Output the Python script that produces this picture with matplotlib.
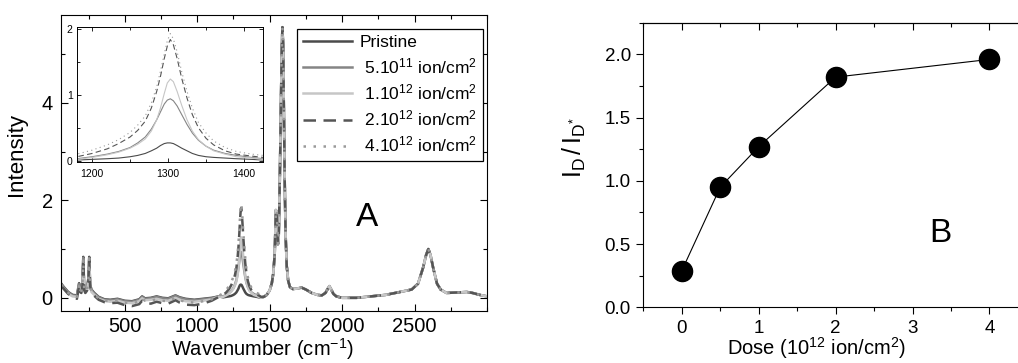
import matplotlib
matplotlib.use("Agg")
import matplotlib.pyplot as plt
from matplotlib.ticker import MultipleLocator

plt.rcParams['font.family'] = ['Liberation Sans', 'DejaVu Sans']
plt.rcParams['mathtext.fontset'] = 'custom'
plt.rcParams['mathtext.rm'] = 'Liberation Sans'
plt.rcParams['mathtext.it'] = 'Liberation Sans:italic'
plt.rcParams['mathtext.bf'] = 'Liberation Sans:bold'
plt.rcParams['mathtext.default'] = 'regular'

# Panel A: Raman spectra (low range, D band, G/2D range)
wn_low = [60, 80, 110, 140, 170, 185, 192, 200, 208, 214, 220, 228, 240, 249, 255, 261, 270, 290, 320,
          360, 400, 450, 500, 550, 600, 620, 640, 680, 720, 760, 800, 850, 880, 920, 980, 1040, 1100, 1150]
pristine_low = [0.30, 0.22, 0.12, 0.06, 0.05, 0.30, 0.18, 0.15, 0.30, 0.84, 0.22, 0.15, 0.20, 0.40, 0.84,
                0.28, 0.17, 0.10, 0.02, -0.03, -0.04, -0.02, -0.06, -0.07, -0.03, 0.03, -0.01, 0.00, 0.03,
                0.00, -0.01, 0.05, 0.01, -0.02, -0.04, -0.02, 0.00, 0.03]
dose5_low = [0.28, 0.21, 0.11, 0.05, 0.04, 0.28, 0.17, 0.14, 0.28, 0.82, 0.21, 0.14, 0.19, 0.38, 0.82,
             0.27, 0.16, 0.09, 0.01, -0.04, -0.05, -0.03, -0.07, -0.08, -0.04, 0.02, -0.02, -0.01, 0.02,
             -0.01, -0.02, 0.04, 0.00, -0.03, -0.05, -0.03, -0.01, 0.03]
dose1_low = [0.25, 0.18, 0.08, 0.03, 0.02, 0.22, 0.12, 0.10, 0.22, 0.70, 0.16, 0.10, 0.15, 0.32, 0.72,
             0.22, 0.12, 0.06, -0.02, -0.06, -0.08, -0.06, -0.10, -0.11, -0.07, -0.01, -0.05, -0.04, -0.02,
             -0.05, -0.06, 0.00, -0.04, -0.07, -0.08, -0.06, -0.03, 0.02]
dose2_low = [0.25, 0.18, 0.08, 0.02, -0.02, 0.25, 0.12, 0.10, 0.24, 0.78, 0.16, 0.10, 0.15, 0.34, 0.78,
             0.24, 0.12, 0.04, -0.04, -0.09, -0.11, -0.10, -0.15, -0.17, -0.13, -0.06, -0.10, -0.12, -0.08,
             -0.11, -0.12, -0.05, -0.10, -0.14, -0.15, -0.12, -0.06, 0.02]
dose4_low = [0.27, 0.20, 0.10, 0.04, 0.02, 0.26, 0.15, 0.12, 0.26, 0.80, 0.19, 0.12, 0.17, 0.36, 0.80,
             0.26, 0.14, 0.07, -0.01, -0.06, -0.07, -0.06, -0.10, -0.11, -0.08, -0.02, -0.06, -0.06, -0.03,
             -0.06, -0.07, 0.00, -0.05, -0.08, -0.10, -0.07, -0.03, 0.04]

wn_d = [1180, 1200, 1220, 1235, 1250, 1260, 1270, 1278, 1285, 1290, 1295, 1299, 1303, 1307, 1312, 1318,
        1325, 1332, 1340, 1350, 1360, 1375, 1390, 1410, 1425, 1440]
pristine_d = [0.01, 0.02, 0.03, 0.04, 0.06, 0.08, 0.11, 0.15, 0.19, 0.23, 0.26, 0.27, 0.27, 0.26, 0.23,
              0.19, 0.15, 0.11, 0.08, 0.06, 0.05, 0.04, 0.03, 0.02, 0.01, 0.00]
dose5_d = [0.03, 0.06, 0.10, 0.14, 0.20, 0.27, 0.36, 0.48, 0.62, 0.74, 0.86, 0.92, 0.94, 0.91, 0.83,
           0.70, 0.55, 0.42, 0.31, 0.22, 0.16, 0.11, 0.08, 0.05, 0.03, 0.01]
dose1_d = [0.02, 0.05, 0.09, 0.13, 0.19, 0.25, 0.33, 0.45, 0.62, 0.80, 1.02, 1.18, 1.24, 1.20, 1.05,
           0.84, 0.62, 0.45, 0.32, 0.22, 0.15, 0.10, 0.06, 0.04, 0.02, 0.00]
dose2_d = [0.06, 0.11, 0.18, 0.26, 0.36, 0.46, 0.60, 0.80, 1.05, 1.28, 1.55, 1.74, 1.84, 1.76, 1.55,
           1.25, 0.95, 0.70, 0.50, 0.34, 0.24, 0.15, 0.10, 0.07, 0.05, 0.02]
dose4_d = [0.10, 0.16, 0.24, 0.32, 0.43, 0.54, 0.68, 0.88, 1.12, 1.36, 1.62, 1.82, 1.93, 1.85, 1.65,
           1.35, 1.05, 0.80, 0.58, 0.42, 0.30, 0.20, 0.14, 0.10, 0.08, 0.04]

# G, D', 2D region: all five spectra overlap here
wn_high = [1460, 1480, 1500, 1515, 1525, 1535, 1543, 1550, 1557, 1563, 1570, 1577, 1583, 1588, 1593,
           1598, 1604, 1610, 1618, 1628, 1640, 1660, 1690, 1720, 1750, 1790, 1830, 1860, 1885, 1900,
           1912, 1925, 1940, 1960, 2000, 2100, 2200, 2300, 2400, 2480, 2524, 2559, 2580, 2595, 2610,
           2628, 2655, 2680, 2720, 2800, 2860, 2900, 2950, 3000]
high_int = [0.02, 0.06, 0.15, 0.30, 0.50, 0.90, 1.80, 1.75, 1.10, 1.30, 2.40, 3.80, 5.00, 5.55, 5.20,
            3.90, 2.40, 1.30, 0.65, 0.35, 0.22, 0.18, 0.19, 0.21, 0.17, 0.10, 0.06, 0.05, 0.10, 0.18,
            0.24, 0.17, 0.08, 0.03, 0.00, 0.00, 0.03, 0.06, 0.12, 0.17, 0.29, 0.62, 0.88, 1.00, 0.88,
            0.62, 0.29, 0.17, 0.10, 0.11, 0.12, 0.10, 0.06, 0.03]

labels = ['Pristine', ' 5.10$^{11}$ ion/cm$^{2}$', ' 1.10$^{12}$ ion/cm$^{2}$',
          ' 2.10$^{12}$ ion/cm$^{2}$', ' 4.10$^{12}$ ion/cm$^{2}$']
low_sets = [pristine_low, dose5_low, dose1_low, dose2_low, dose4_low]
d_sets = [pristine_d, dose5_d, dose1_d, dose2_d, dose4_d]
colors = ['#4a4a4a', '#858585', '#c6c6c6', '#555555', '#9a9a9a']
styles = ['-', '-', '-', (0, (5, 3)), (0, (1, 3))]

# Panel B: D-band intensity ratio
dose = [0, 0.5, 1, 2, 4]
ratio = [0.29, 0.95, 1.27, 1.82, 1.96]

fig = plt.figure(figsize=(10.18, 3.63), dpi=100)
ax = fig.add_axes([0.0599, 0.1433, 0.4185, 0.8154])
ins = fig.add_axes([0.0756, 0.5537, 0.1827, 0.3719])
axb = fig.add_axes([0.632, 0.1534, 0.3777, 0.784])

for lo, dd, c, ls, lab in zip(low_sets, d_sets, colors, styles, labels):
    wn = wn_low + wn_d + wn_high
    y = lo + dd + high_int
    ax.plot(wn, y, color=c, ls=ls, lw=1.8, label=lab)
    ins.plot(wn, y, color=c, ls=ls, lw=0.8)

ax.set_xlim(60, 3000)
ax.set_ylim(-0.27, 5.8)
ax.xaxis.set_major_locator(MultipleLocator(500))
ax.xaxis.set_minor_locator(MultipleLocator(250))
ax.yaxis.set_major_locator(MultipleLocator(2))
ax.yaxis.set_minor_locator(MultipleLocator(1))
ax.tick_params(which='both', direction='in', top=True, right=True, width=0.8)
ax.tick_params(which='major', length=5, labelsize=14.5, pad=6)
ax.tick_params(which='minor', length=3)
ax.tick_params(axis='x', which='major', pad=4.5)
ax.set_xticks([500, 1000, 1500, 2000, 2500])
xl = ax.set_xlabel('Wavenumber (cm$^{-1}$)', fontsize=14.5)
xl.set_verticalalignment('bottom')
ax.xaxis.set_label_coords(0.472, -0.172)
ax.set_ylabel('Intensity', fontsize=16)
ax.yaxis.set_label_coords(-0.08, 0.527)
ax.text(2170, 1.47, 'A', fontsize=24, ha='center', va='baseline')
leg = ax.legend(loc='upper right', bbox_to_anchor=(0.9906, 0.9527), borderaxespad=0,
                fontsize=12.5, handlelength=2.8, labelspacing=0.36, fancybox=False,
                edgecolor='black', framealpha=1, borderpad=0.35, handletextpad=0.45)
leg.get_frame().set_linewidth(0.9)

ins.set_xlim(1180, 1425)
ins.set_ylim(-0.02, 2.03)
ins.xaxis.set_major_locator(MultipleLocator(100))
ins.xaxis.set_minor_locator(MultipleLocator(50))
ins.yaxis.set_major_locator(MultipleLocator(1))
ins.yaxis.set_minor_locator(MultipleLocator(0.5))
ins.tick_params(which='both', direction='in', top=True, right=True, width=0.6, labelsize=7.5)
ins.tick_params(which='major', length=3, pad=3)
ins.tick_params(which='minor', length=2)
ins.tick_params(axis='x', which='major', pad=5)
for s in ins.spines.values():
    s.set_linewidth(0.7)

axb.plot(dose, ratio, color='black', lw=0.8, marker='o', markersize=14.5)
axb.set_xlim(-0.5, 4.5)
axb.set_ylim(0, 2.25)
axb.xaxis.set_major_locator(MultipleLocator(1))
axb.xaxis.set_minor_locator(MultipleLocator(0.5))
axb.yaxis.set_major_locator(MultipleLocator(0.5))
axb.yaxis.set_minor_locator(MultipleLocator(0.25))
axb.yaxis.set_major_formatter(matplotlib.ticker.FormatStrFormatter('%.1f'))
axb.tick_params(which='both', direction='out', width=0.8, labelsize=13.5)
axb.tick_params(which='major', length=5, pad=4)
axb.tick_params(which='minor', length=3)
axb.spines['right'].set_visible(False)
top = axb.secondary_xaxis('top')
top.xaxis.set_major_locator(MultipleLocator(1))
top.xaxis.set_minor_locator(MultipleLocator(0.5))
top.tick_params(which='both', direction='in', labeltop=False, width=0.8)
top.tick_params(which='major', length=5)
top.tick_params(which='minor', length=3)
dl = axb.set_xlabel('Dose (10$^{12}$ ion/cm$^{2}$)', fontsize=14.5)
dl.set_verticalalignment('bottom')
axb.xaxis.set_label_coords(0.451, -0.19)
axb.set_ylabel('$I_D\\,/\\,I_{D^{*}}$', fontsize=18)
axb.yaxis.set_label_coords(-0.145, 0.56)
axb.text(3.36, 0.52, 'B', fontsize=24, ha='center', va='baseline')

fig.savefig('out.png', dpi=100)
